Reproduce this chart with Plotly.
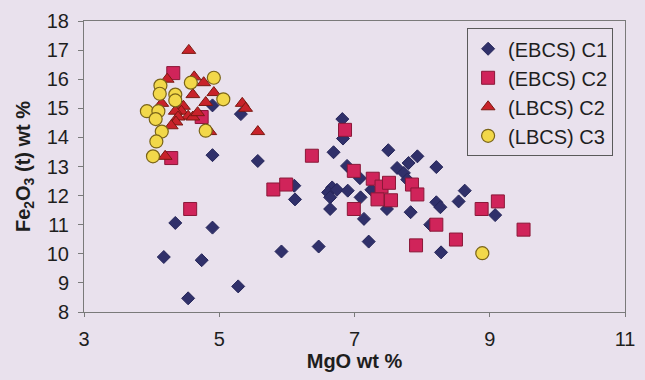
import plotly.graph_objects as go

# MgO (x) and Fe2O3(t) (y) for each group, wt %
ebcs_c1_mgo = [4.18, 4.35, 4.74, 4.54, 4.90, 5.28, 5.57, 4.90, 5.32, 4.90, 5.92, 6.11, 6.12,
               6.47, 6.82, 6.83, 6.69, 7.50, 7.93, 7.80, 8.21, 7.63, 6.89, 7.08, 6.67, 6.61,
               6.74, 6.64, 6.90, 6.64, 7.09, 7.25, 7.14, 7.48, 7.83, 7.73, 7.78, 8.21, 8.27,
               8.63, 8.54, 7.21, 8.28, 8.12, 9.08]
ebcs_c1_fe = [9.89, 11.06, 9.78, 8.47, 10.90, 8.88, 13.19, 13.39, 14.80, 15.10, 10.08, 12.34, 11.87,
              10.25, 14.63, 13.96, 13.49, 13.56, 13.35, 13.12, 12.98, 12.95, 13.02, 12.60, 12.28, 12.11,
              12.20, 11.94, 12.17, 11.54, 11.94, 12.20, 11.20, 11.54, 11.43, 12.78, 12.55, 11.77, 11.60,
              12.17, 11.80, 10.42, 10.05, 11.00, 11.33]

ebcs_c2_mgo = [4.32, 4.74, 4.29, 4.57, 5.80, 5.99, 6.37, 6.86, 6.99, 7.27, 7.40, 7.51, 7.34,
               7.54, 7.85, 7.93, 6.99, 8.21, 7.91, 8.50, 9.12, 8.88, 9.50]
ebcs_c2_fe = [16.21, 14.70, 13.29, 11.54, 12.21, 12.38, 13.37, 14.26, 12.85, 12.58, 12.31, 12.44, 11.87,
              11.84, 12.38, 12.04, 11.54, 11.00, 10.29, 10.49, 11.80, 11.54, 10.83]

lbcs_c2_mgo = [4.55, 4.63, 4.77, 4.92, 4.61, 4.23, 4.15, 4.80, 4.47, 4.44, 4.54, 4.35, 4.39,
               4.61, 4.36, 4.29, 4.20, 4.86, 5.34, 5.39, 5.57, 4.68]
lbcs_c2_fe = [16.99, 16.08, 15.88, 15.54, 15.47, 16.00, 15.17, 15.20, 15.07, 14.90, 14.73, 14.90, 14.70,
              14.70, 14.53, 14.40, 13.35, 14.20, 15.17, 15.00, 14.20, 14.85]

lbcs_c3_mgo = [4.92, 4.13, 4.58, 4.12, 4.35, 4.35, 5.06, 3.93, 4.10, 4.06, 4.15, 4.07, 4.02, 4.80, 8.89]
lbcs_c3_fe = [16.05, 15.78, 15.88, 15.50, 15.47, 15.27, 15.31, 14.90, 14.90, 14.63, 14.20, 13.86, 13.35, 14.23, 10.02]

x_ticks = [3, 5, 7, 9, 11]
y_ticks = list(range(8, 19))

BG = "#E9E1ED"
FONT = "Liberation Sans, Arial, sans-serif"

series = [
    ("(EBCS) C1", ebcs_c1_mgo, ebcs_c1_fe, dict(symbol="diamond", size=10, color="#30306A",
                                               line=dict(color="#26265A", width=1))),
    ("(EBCS) C2", ebcs_c2_mgo, ebcs_c2_fe, dict(symbol="square", size=13, color="#D0245A",
                                               line=dict(color="#8A1838", width=1))),
    ("(LBCS) C2", lbcs_c2_mgo, lbcs_c2_fe, dict(symbol="triangle-up", size=12, color="#C8222A",
                                               line=dict(color="#7A1A12", width=1))),
    ("(LBCS) C3", lbcs_c3_mgo, lbcs_c3_fe, dict(symbol="circle", size=13, color="#F2D84A",
                                               line=dict(color="#7A6418", width=1.2))),
]

fig = go.Figure()
for i, (name, xs, ys, marker) in enumerate(series):
    fig.add_trace(go.Scatter(x=xs, y=ys, mode="markers", name=name, marker=marker))

fig.update_layout(
    width=645, height=380,
    margin=dict(l=84, r=10, t=15, b=68),
    paper_bgcolor=BG, plot_bgcolor=BG,
    font=dict(family=FONT, color="#1E1E1E", size=20),
    showlegend=True,
    legend=dict(
        x=0.978, y=0.975, xanchor="right", yanchor="top",
        bgcolor=BG, bordercolor="#5A5A5A", borderwidth=1,
        font=dict(family=FONT, size=20, color="#1E1E1E"),
        itemwidth=30,
    ),
    xaxis=dict(
        range=[3, 11], tickvals=x_ticks, showgrid=False, zeroline=False,
        showline=True, linecolor="#7A7A7A", linewidth=1, mirror=True,
        ticks="outside", ticklen=4, tickcolor="#7A7A7A",
        tickfont=dict(size=20), ticklabelstandoff=5,
        title=dict(text="<b>MgO wt %</b>", font=dict(size=20), standoff=3),
    ),
    yaxis=dict(
        range=[8, 18], tickvals=y_ticks, showgrid=False, zeroline=False,
        showline=True, linecolor="#7A7A7A", linewidth=1, mirror=True,
        ticks="outside", ticklen=5, tickcolor="#7A7A7A",
        tickfont=dict(size=20), ticklabelstandoff=5,
        title=dict(text="<b>Fe<sub>2</sub>O<sub>3</sub> (t) wt %</b>", font=dict(size=20), standoff=10),
    ),
)

fig.write_html("out.html")
